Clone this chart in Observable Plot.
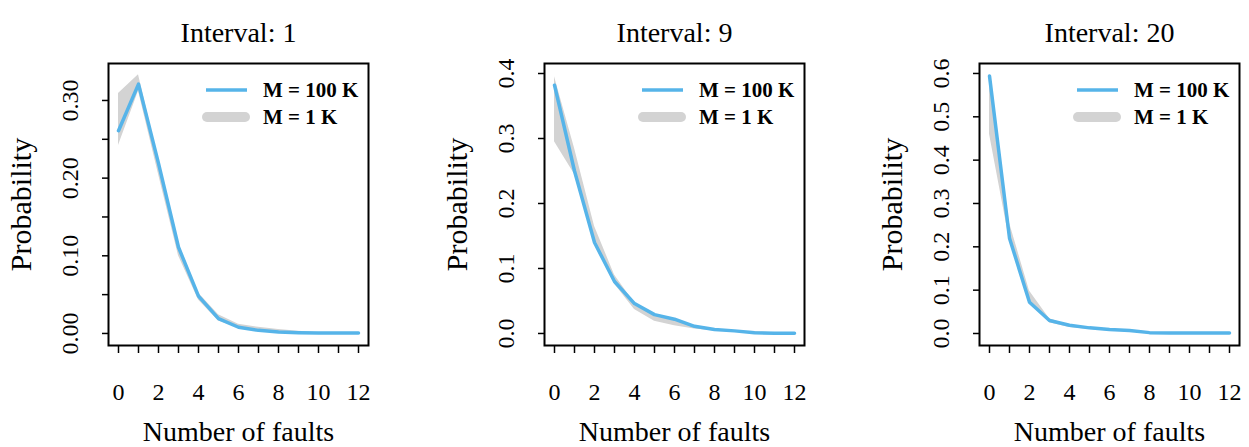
<!DOCTYPE html>
<html><head><meta charset="utf-8">
<script src="https://cdn.jsdelivr.net/npm/d3@7"></script>
<script src="https://cdn.jsdelivr.net/npm/@observablehq/plot@0.6"></script>
<style>
body{margin:0;background:#fff;}
#chart{position:relative;width:1249px;height:447px;overflow:hidden;background:#fff;}
#chart svg{position:absolute;top:0;overflow:visible;}
</style></head><body><div id="chart"></div>
<script>
// ---- data ----
const faults = [0,1,2,3,4,5,6,7,8,9,10,11,12];
const titles = ["Interval: 1", "Interval: 9", "Interval: 20"];
const seriesNames = ["M = 100 K", "M = 1 K"];

// Interval 1
const m100k_1 = [0.261, 0.321, 0.219, 0.111, 0.048, 0.019, 0.008, 0.004, 0.002, 0.001, 0.0005, 0.0005, 0.0005];
const lo1k_1  = [0.242, 0.312, 0.205, 0.100, 0.043, 0.016, 0.007, 0.003, 0.001, 0.000, 0.000, 0.000, 0.000];
const hi1k_1  = [0.309, 0.333, 0.224, 0.113, 0.052, 0.024, 0.012, 0.008, 0.005, 0.003, 0.001, 0.001, 0.001];
// Interval 9
const m100k_9 = [0.382, 0.250, 0.140, 0.080, 0.046, 0.029, 0.022, 0.011, 0.006, 0.004, 0.001, 0.0005, 0.0005];
const lo1k_9  = [0.295, 0.245, 0.138, 0.076, 0.037, 0.019, 0.012, 0.007, 0.004, 0.002, 0.001, 0.000, 0.000];
const hi1k_9  = [0.395, 0.285, 0.165, 0.090, 0.047, 0.029, 0.022, 0.012, 0.007, 0.004, 0.003, 0.001, 0.001];
// Interval 20
const m100k_20 = [0.594, 0.220, 0.072, 0.030, 0.019, 0.013, 0.009, 0.007, 0.002, 0.001, 0.001, 0.001, 0.001];
const lo1k_20  = [0.460, 0.215, 0.070, 0.025, 0.014, 0.009, 0.006, 0.004, 0.002, 0.000, 0.000, 0.000, 0.000];
const hi1k_20  = [0.590, 0.255, 0.098, 0.034, 0.019, 0.013, 0.009, 0.007, 0.003, 0.001, 0.001, 0.001, 0.001];

// tick values and labels
const xTicks = faults;
const xTickLabels = ["0","","2","","4","","6","","8","","10","","12"];
const yTicks_1 = [0, 0.05, 0.10, 0.15, 0.20, 0.25, 0.30];
const yTickLabels_1 = ["0.00","","0.10","","0.20","","0.30"];
const yTicks_9 = [0, 0.1, 0.2, 0.3, 0.4];
const yTickLabels_9 = ["0.0","0.1","0.2","0.3","0.4"];
const yTicks_20 = [0, 0.1, 0.2, 0.3, 0.4, 0.5, 0.6];
const yTickLabels_20 = ["0.0","0.1","0.2","0.3","0.4","0.5","0.6"];

const BLUE = "#56B4E9";
const GRAY = "#d3d3d3";
const FONT = "'Liberation Serif', 'Times New Roman', serif";

const panels = [
  {title: titles[0], blue: m100k_1, lo: lo1k_1, hi: hi1k_1, yDomain: [-0.0155, 0.3476], yTicks: yTicks_1, yLabels: yTickLabels_1, left: 0},
  {title: titles[1], blue: m100k_9, lo: lo1k_9, hi: hi1k_9, yDomain: [-0.0185, 0.4154], yTicks: yTicks_9, yLabels: yTickLabels_9, left: 436},
  {title: titles[2], blue: m100k_20, lo: lo1k_20, hi: hi1k_20, yDomain: [-0.0277, 0.623], yTicks: yTicks_20, yLabels: yTickLabels_20, left: 871}
];

const chart = document.getElementById("chart");
const xLabMap = new Map(xTicks.map((t, i) => [t, xTickLabels[i]]));

for (const p of panels) {
  const rows = faults.map((f, i) => ({f, blue: p.blue[i], lo: p.lo[i], hi: p.hi[i]}));
  const yLabMap = new Map(p.yTicks.map((t, i) => [t, p.yLabels[i]]));
  const W = 378, ML = 108, MR = 10, MT = 63, MB = 102;
  const plot = Plot.plot({
    width: W, height: 447,
    marginLeft: ML, marginRight: MR, marginTop: MT, marginBottom: MB,
    style: {fontFamily: FONT, fontSize: "24px", background: "transparent", color: "#000"},
    x: {domain: [-0.5, 12.5]},
    y: {domain: p.yDomain},
    marks: [
      Plot.areaY(rows, {x: "f", y1: "lo", y2: "hi", fill: GRAY}),
      Plot.lineY(rows, {x: "f", y: "blue", stroke: BLUE, strokeWidth: 3.5}),
      Plot.frame({stroke: "#000", strokeWidth: 2}),
      Plot.axisX({ticks: xTicks, tickSize: 8, tickPadding: 29, strokeWidth: 1.5,
        tickFormat: d => xLabMap.get(d), label: "Number of faults", labelArrow: "none", labelAnchor: "center", labelOffset: 95}),
      Plot.axisY({ticks: p.yTicks, tickSize: 6, tickPadding: 25, tickRotate: -90, strokeWidth: 1.5,
        tickFormat: d => yLabMap.get(d), label: "Probability", labelArrow: "none", labelAnchor: "center", labelOffset: 99}),
      Plot.text([p.title], {text: d => d, frameAnchor: "top", dy: -41, fontSize: 28})
    ]
  });
  plot.style.left = p.left + "px";
  chart.appendChild(plot);
  const svg = d3.select(plot);
  svg.selectAll('g[aria-label="x-axis label"]').attr("font-size", 28);
  svg.selectAll('g[aria-label="y-axis label"]').attr("font-size", 30);
  svg.selectAll('g[aria-label="x-axis label"] text, g[aria-label="y-axis label"] text')
    .each(function() { this.textContent = this.textContent.replace(/\s*[→←↑↓]\s*/g, ""); });
  // legend (top-right inside frame)
  const fr = W - MR, top = MT;
  const g = svg.append("g").attr("font-family", FONT).attr("font-weight", "bold").attr("font-size", 21)
    .attr("text-anchor", "start").attr("fill", "#000");
  g.append("line").attr("x1", fr - 162).attr("x2", fr - 121).attr("y1", top + 27).attr("y2", top + 27)
    .attr("stroke", BLUE).attr("stroke-width", 3.5);
  g.append("line").attr("x1", fr - 161).attr("x2", fr - 123).attr("y1", top + 54).attr("y2", top + 54)
    .attr("stroke", GRAY).attr("stroke-width", 10).attr("stroke-linecap", "round");
  g.append("text").attr("x", fr - 105).attr("y", top + 27).attr("dy", "0.35em").text(seriesNames[0]);
  g.append("text").attr("x", fr - 105).attr("y", top + 54).attr("dy", "0.35em").text(seriesNames[1]);
}
</script>
</body></html>
